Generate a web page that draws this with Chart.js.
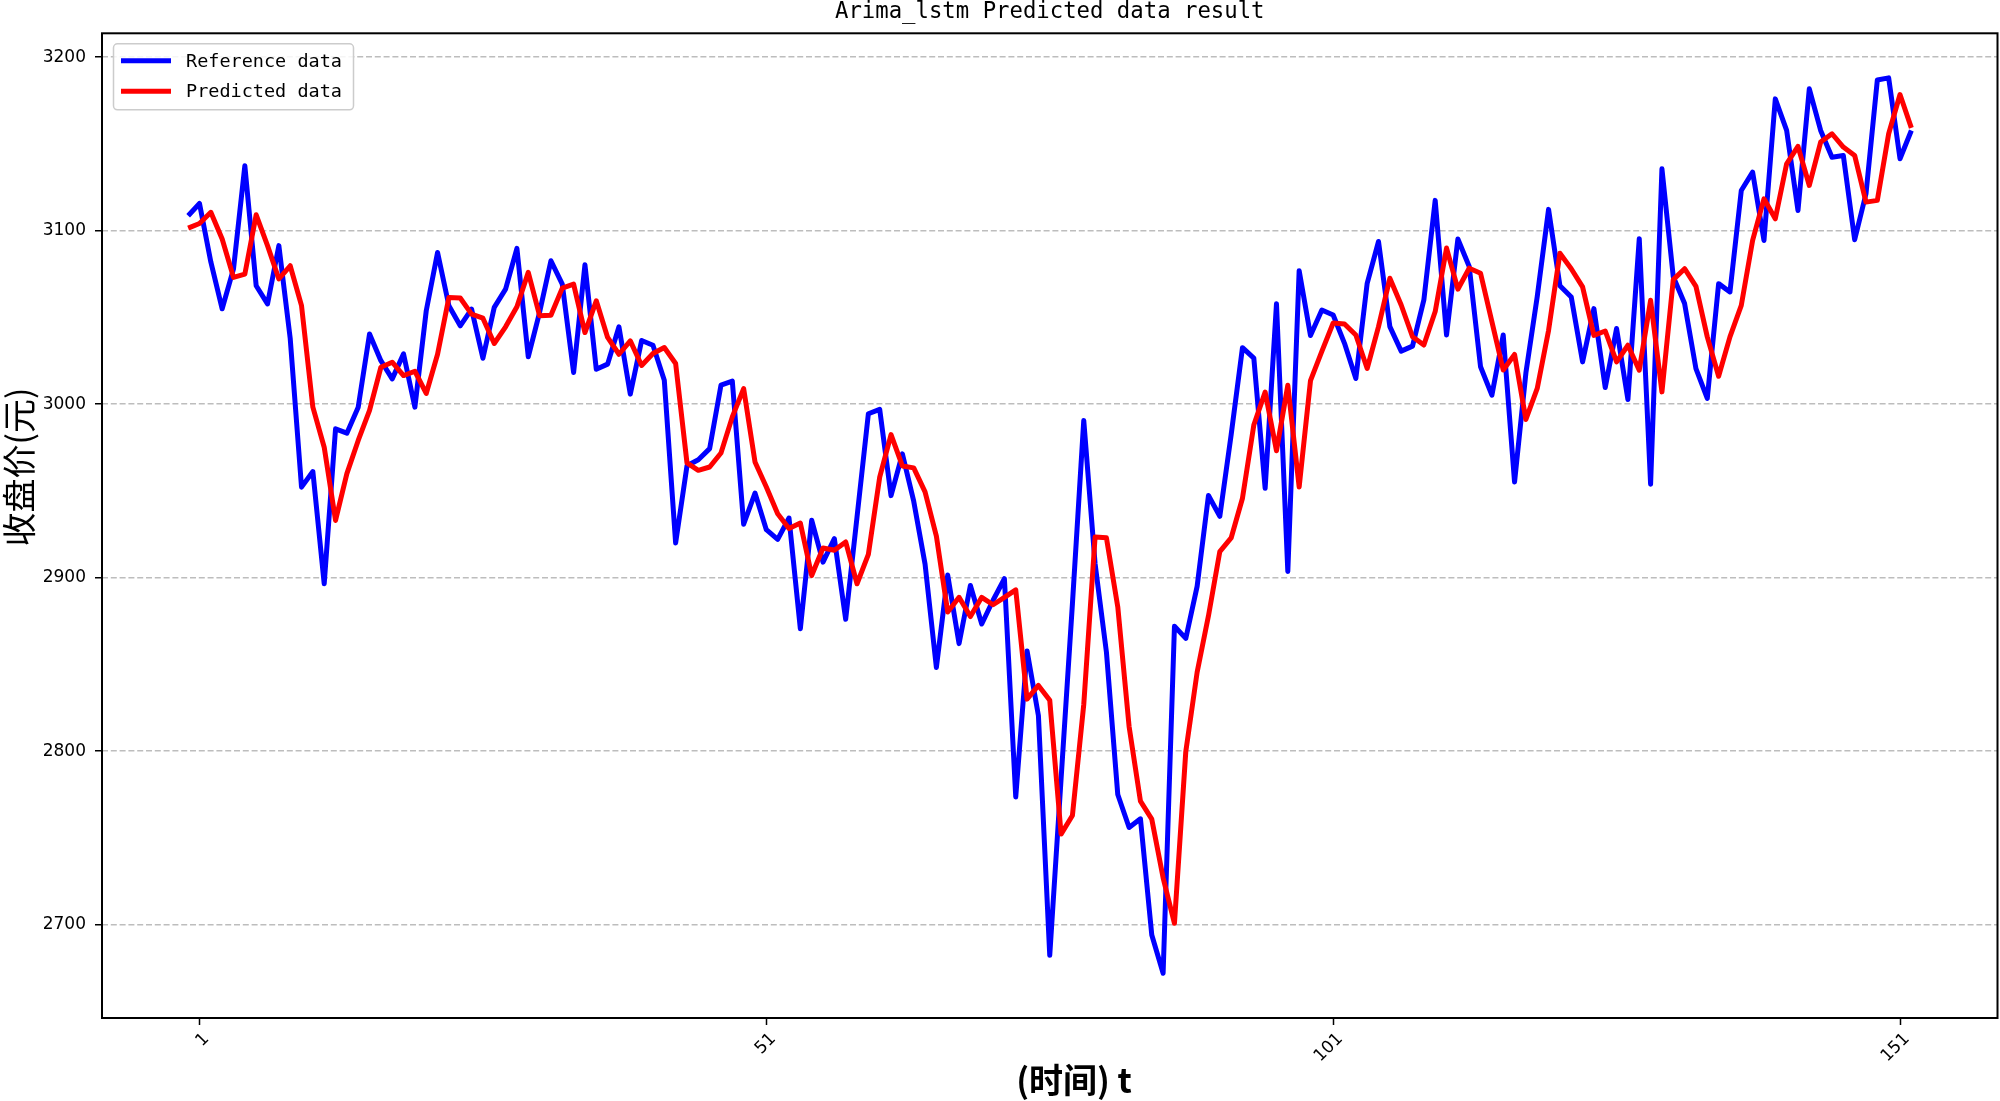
<!DOCTYPE html>
<html>
<head>
<meta charset="utf-8">
<script src="https://cdn.jsdelivr.net/npm/chart.js@4.4.1/dist/chart.umd.min.js"></script>
<style>
  html, body { margin: 0; padding: 0; background: #fff; }
  #wrap { width: 2000px; height: 1101px; }
</style>
</head>
<body>
<div id="wrap"><canvas id="resultChart" width="2000" height="1101"></canvas></div>
<script>
// closing price (t = 0 .. 152)
const referenceData = [
    3108.6, 3115.7, 3082, 3055, 3078, 3137.4, 3068.3, 3057.8, 3091.4, 3038,
    2952.2, 2961.2, 2896.5, 2985.8, 2983.3, 2998.3, 3040.5, 3025.1, 3014.6, 3029,
    2998.3, 3053.8, 3087.5, 3056.7, 3045.2, 3054.8, 3026.5, 3055.8, 3066.3, 3089.8,
    3027.3, 3053, 3082.7, 3069.2, 3018.3, 3080.4, 3020.2, 3023.1, 3044.6, 3005.8,
    3036.7, 3034, 3013.8, 2920, 2964.5, 2968, 2974.4, 3011, 3013.3, 2930.8,
    2948.8, 2927.7, 2922.1, 2934.4, 2870.6, 2933.1, 2909, 2922.5, 2876, 2935,
    2994.5, 2997, 2947.3, 2971.4, 2944.1, 2907.9, 2848.2, 2901.5, 2862, 2895.5,
    2873.3, 2887, 2899.4, 2773.6, 2857.8, 2820.5, 2682.3, 2784, 2885, 2990.6,
    2908, 2857, 2775, 2756, 2761, 2694, 2672, 2872, 2865, 2895,
    2947.4, 2935.4, 2982.3, 3032.6, 3026.6, 2951.5, 3057.9, 2903.6, 3077, 3039.6,
    3054.3, 3051.4, 3035.1, 3014.8, 3069.7, 3093.8, 3044.7, 3030.6, 3033.5, 3060.1,
    3117.5, 3039.9, 3095.2, 3079.4, 3021.6, 3005.2, 3039.9, 2955.1, 3018, 3062,
    3112.3, 3068.3, 3061.8, 3024.4, 3055.1, 3009.6, 3043.6, 3002.7, 3095.4, 2953.9,
    3135.7, 3073.5, 3058, 3020.5, 3003.3, 3069.5, 3064.7, 3123.2, 3133.8, 3094.4,
    3176, 3157.8, 3111.7, 3181.8, 3157.8, 3142.4, 3143.4, 3094.8, 3121.3, 3186.9,
    3188.1, 3141.5, 3157.8,
];

const predictedData = [
    3101.5, 3104.2, 3110.6, 3095.2, 3073.1, 3075, 3109.2, 3091.4, 3072.2, 3079.8,
    3056.8, 2998.3, 2975.2, 2933, 2960, 2979.1, 2996.4, 3021.3, 3024.2, 3016.5,
    3019, 3006.2, 3028.8, 3061.5, 3061.2, 3051.9, 3049.6, 3035, 3044.6, 3056.2,
    3076, 3051, 3051.3, 3066.9, 3069.2, 3041.3, 3059.6, 3038.5, 3028.8, 3036.5,
    3022.3, 3029.2, 3032.7, 3023.5, 2966.2, 2961.9, 2963.8, 2971.9, 2992.7, 3009,
    2966.7, 2952.3, 2936.9, 2928.3, 2931.5, 2901.3, 2917.1, 2915.8, 2920.6, 2896.5,
    2913.5, 2958, 2982.5, 2964.4, 2963.3, 2949.5, 2923.9, 2880.2, 2888.7, 2877.6,
    2888.7, 2884.4, 2888.7, 2893, 2830, 2837.9, 2829.4, 2752.2, 2762.9, 2826.9,
    2923.5, 2923, 2883.2, 2814.2, 2771.2, 2760.8, 2727, 2700.8, 2799.8, 2845.5,
    2878, 2915, 2922.9, 2945.8, 2988, 3007, 2973.2, 3010.9, 2952.3, 3013.6,
    3030.5, 3046.8, 3046.2, 3039.9, 3020.6, 3044.7, 3072.6, 3057.2, 3038.9, 3034.1,
    3053.4, 3090, 3066.3, 3078.4, 3075.5, 3047.6, 3019.7, 3028.7, 2991.2, 3009.1,
    3042.5, 3087, 3078.1, 3067.6, 3039.7, 3042.2, 3024.4, 3034, 3019.6, 3059.9,
    3007.1, 3071.8, 3078.1, 3067.9, 3038.8, 3016.1, 3038.8, 3057, 3094.4, 3118.4,
    3106.9, 3138.6, 3148.6, 3126.1, 3151.1, 3155.9, 3148.2, 3143.4, 3116.5, 3117.5,
    3155.9, 3178.5, 3159.3,
];

const timeSteps = referenceData.map((_, i) => i);
const xTicks = [1, 51, 101, 151];
const yTicks = [2700, 2800, 2900, 3000, 3100, 3200];
const seriesLabels = ['Reference data', 'Predicted data'];
const chartTitle = 'Arima_lstm Predicted data result';
const xTitle = '(时间) t';
const yTitle = '收盘价(元)';

const MONO = '"DejaVu Sans Mono", "Liberation Mono", monospace';
const CJK = '"Noto Sans CJK SC", sans-serif';

// black box round the plot, like matplotlib spines
const framePlugin = {
    id: 'frame',
    afterDatasetsDraw(chart) {
        const { ctx, chartArea: a } = chart;
        ctx.save();
        ctx.strokeStyle = '#000';
        ctx.lineWidth = 2;
        ctx.strokeRect(a.left, a.top, a.right - a.left, a.bottom - a.top);
        ctx.restore();
    },
};

// legend box in the upper left corner of the plot
const legendPlugin = {
    id: 'boxLegend',
    afterDatasetsDraw(chart) {
        const { ctx, chartArea: a } = chart;
        const bx = a.left + 11.5;
        const by = a.top + 10.5;

        ctx.save();
        ctx.beginPath();
        ctx.roundRect(bx, by, 240, 66, 4);
        ctx.fillStyle = 'rgba(255,255,255,0.85)';
        ctx.fill();
        ctx.strokeStyle = '#cccccc';
        ctx.lineWidth = 1.5;
        ctx.stroke();

        ctx.font = `18.5px ${MONO}`;
        ctx.textBaseline = 'middle';
        chart.data.datasets.forEach((ds, i) => {
            const y = by + 17 + i * 30.5;
            ctx.beginPath();
            ctx.moveTo(bx + 7.5, y);
            ctx.lineTo(bx + 57.5, y);
            ctx.strokeStyle = ds.borderColor;
            ctx.lineWidth = 5;
            ctx.stroke();
            ctx.fillStyle = '#000';
            ctx.fillText(ds.label, bx + 72.5, y + 1);
        });
        ctx.restore();
    },
};

// axis titles, placed where the reference has them
const axisTitlePlugin = {
    id: 'axisTitles',
    afterDraw(chart) {
        const { ctx } = chart;
        ctx.save();
        ctx.fillStyle = '#000';
        ctx.textAlign = 'center';
        ctx.textBaseline = 'middle';

        ctx.font = `bold 34px ${CJK}`;
        ctx.fillText(xTitle, 1074, 1080);

        ctx.translate(19, 467);
        ctx.rotate(-Math.PI / 2);
        ctx.font = `34px ${CJK}`;
        ctx.fillText(yTitle, 0, 0);
        ctx.restore();
    },
};

Chart.defaults.font.family = '"DejaVu Sans", sans-serif';
Chart.defaults.color = '#000';

new Chart(document.getElementById('resultChart'), {
    type: 'line',
    data: {
        labels: timeSteps,
        datasets: [
            {
                label: seriesLabels[0],
                data: referenceData,
                borderColor: '#0000ff',
                borderWidth: 5,
                pointRadius: 0,
                tension: 0,
                borderJoinStyle: 'round',
                order: 2,
            },
            {
                label: seriesLabels[1],
                data: predictedData,
                borderColor: '#ff0000',
                borderWidth: 5,
                pointRadius: 0,
                tension: 0,
                borderJoinStyle: 'round',
                order: 1,
            },
        ],
    },
    options: {
        responsive: false,
        animation: false,
        devicePixelRatio: 1,
        layout: { padding: { left: 0, right: 2.5, top: 0, bottom: 0 } },
        plugins: {
            legend: { display: false },
            tooltip: { enabled: false },
            title: {
                display: true,
                text: chartTitle,
                fullSize: false,
                color: '#000',
                font: { family: MONO, size: 22.3, weight: 'normal', lineHeight: 1 },
                padding: { top: 1, bottom: 10 },
            },
        },
        scales: {
            x: {
                type: 'linear',
                min: -7.6,
                max: 159.6,
                afterBuildTicks: (axis) => { axis.ticks = xTicks.map((v) => ({ value: v })); },
                afterFit: (axis) => { axis.height = 83; },
                border: { display: false },
                grid: {
                    drawOnChartArea: false,
                    drawTicks: true,
                    tickLength: 7,
                    tickColor: '#000',
                    tickWidth: 1.5,
                },
                ticks: {
                    autoSkip: false,
                    minRotation: 45,
                    maxRotation: 45,
                    padding: 4,
                    labelOffset: 7,
                    font: { size: 17 },
                    callback: (v) => String(v),
                },
            },
            y: {
                min: 2646.2,
                max: 3213.8,
                afterBuildTicks: (axis) => { axis.ticks = yTicks.map((v) => ({ value: v })); },
                afterFit: (axis) => { axis.width = 102; },
                border: { display: false, dash: [6, 2.8] },
                grid: {
                    color: '#bdbdbd',
                    lineWidth: 1.5,
                    tickLength: 7,
                    tickColor: '#000',
                    tickWidth: 1.5,
                    tickBorderDash: [],
                },
                ticks: {
                    padding: 9,
                    font: { size: 17 },
                    callback: (v) => String(v),
                },
            },
        },
    },
    plugins: [framePlugin, legendPlugin, axisTitlePlugin],
});
</script>
</body>
</html>
